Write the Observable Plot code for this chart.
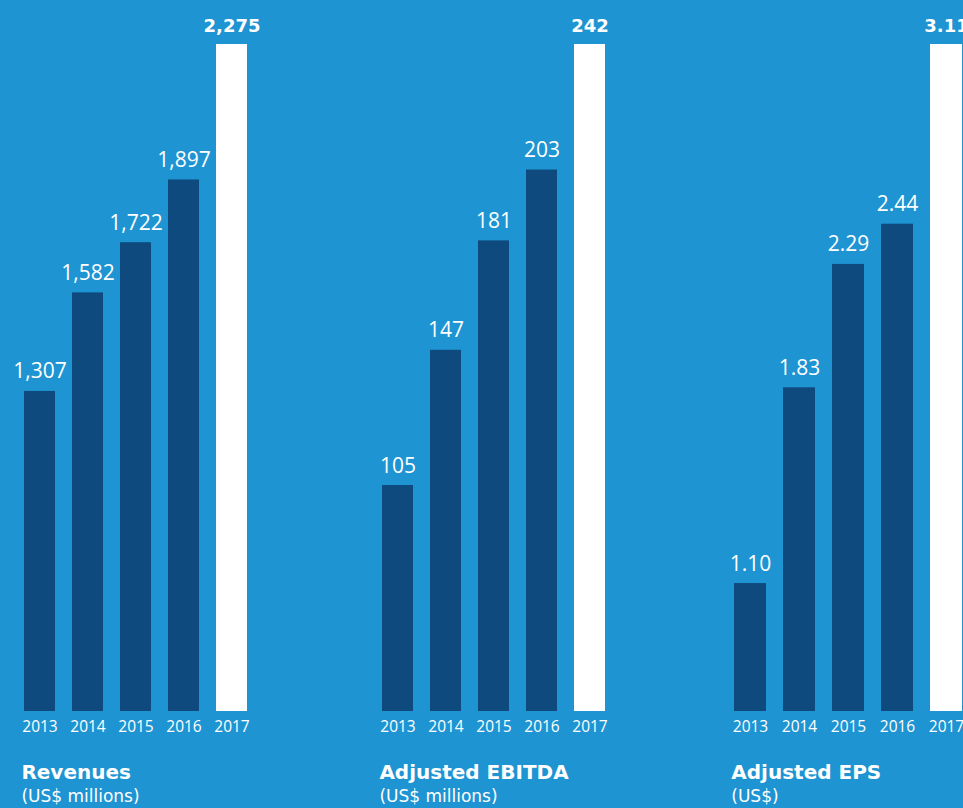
<!DOCTYPE html>
<html>
<head>
<meta charset="utf-8">
<script src="https://cdn.jsdelivr.net/npm/d3@7"></script>
<script src="https://cdn.jsdelivr.net/npm/@observablehq/plot@0.6"></script>
<style>
  html, body { margin: 0; padding: 0; background: #1e94d2; overflow: hidden; }
  #wrap { position: relative; width: 963px; height: 808px; overflow: hidden; background: #1e94d2;
          font-family: "DejaVu Sans", sans-serif; color: #fff; }
  .panel { position: absolute; top: 0; }
  .title { position: absolute; top: 762px; left: 6px; font-size: 20px; line-height: 20px; font-weight: 700; white-space: nowrap; }
  .sub { position: absolute; top: 787.5px; left: 6px; font-size: 17px; line-height: 17px; white-space: nowrap; }
</style>
</head>
<body>
<div id="wrap"></div>
<script>
const years = ["2013", "2014", "2015", "2016", "2017"];
const revenues = [1307, 1582, 1722, 1897, 2275];
const ebitda = [105, 147, 181, 203, 242];
const eps = [1.10, 1.83, 2.29, 2.44, 3.11];
const titles = ["Revenues", "Adjusted EBITDA", "Adjusted EPS"];
const subtitles = ["(US$ millions)", "(US$ millions)", "(US$)"];

const NAVY = "#0e4a7e";
const panels = [
  {values: revenues, yMin: 414, fmt: d3.format(","), left: 15.4, width: 241},
  {values: ebitda, yMin: 34.8, fmt: d3.format(","), left: 373.4, width: 241},
  {values: eps, yMin: 0.623, fmt: d3.format(".2f"), left: 725.3, width: 245}
];

const wrap = document.getElementById("wrap");
panels.forEach((p, i) => {
  const data = years.map((y, j) => ({year: y, value: p.values[j]}));
  const last = years[years.length - 1];
  const chart = Plot.plot({
    width: p.width,
    height: 740,
    marginTop: 44,
    marginBottom: 29,
    marginLeft: 0,
    marginRight: 0,
    style: {background: "transparent", color: "#fff", fontFamily: "'Open Sans', sans-serif", fontSize: "15.5px", overflow: "visible"},
    x: {domain: years, paddingInner: 0.357, paddingOuter: 0.1785, tickSize: 0, tickPadding: 9, label: null},
    y: {domain: [p.yMin, d3.max(p.values)], axis: null},
    marks: [
      Plot.barY(data.filter(d => d.year !== last), {x: "year", y: "value", fill: NAVY, clip: true}),
      Plot.barY(data.filter(d => d.year === last), {x: "year", y: "value", fill: "#ffffff", clip: true}),
      Plot.text(data.filter(d => d.year !== last), {x: "year", y: "value", text: d => p.fmt(d.value), dy: -13, lineAnchor: "bottom", fill: "#fff", fontSize: 21}),
      Plot.text(data.filter(d => d.year === last), {x: "year", y: "value", text: d => p.fmt(d.value), dy: -13, lineAnchor: "bottom", fill: "#fff", fontSize: 18, fontWeight: 700, fontFamily: "'DejaVu Sans', sans-serif"})
    ]
  });
  const div = document.createElement("div");
  div.className = "panel";
  div.style.left = p.left + "px";
  div.style.width = p.width + "px";
  div.appendChild(chart);
  const t = document.createElement("div");
  t.className = "title";
  t.textContent = titles[i];
  const s = document.createElement("div");
  s.className = "sub";
  s.textContent = subtitles[i];
  div.appendChild(t);
  div.appendChild(s);
  wrap.appendChild(div);
});
</script>
</body>
</html>
